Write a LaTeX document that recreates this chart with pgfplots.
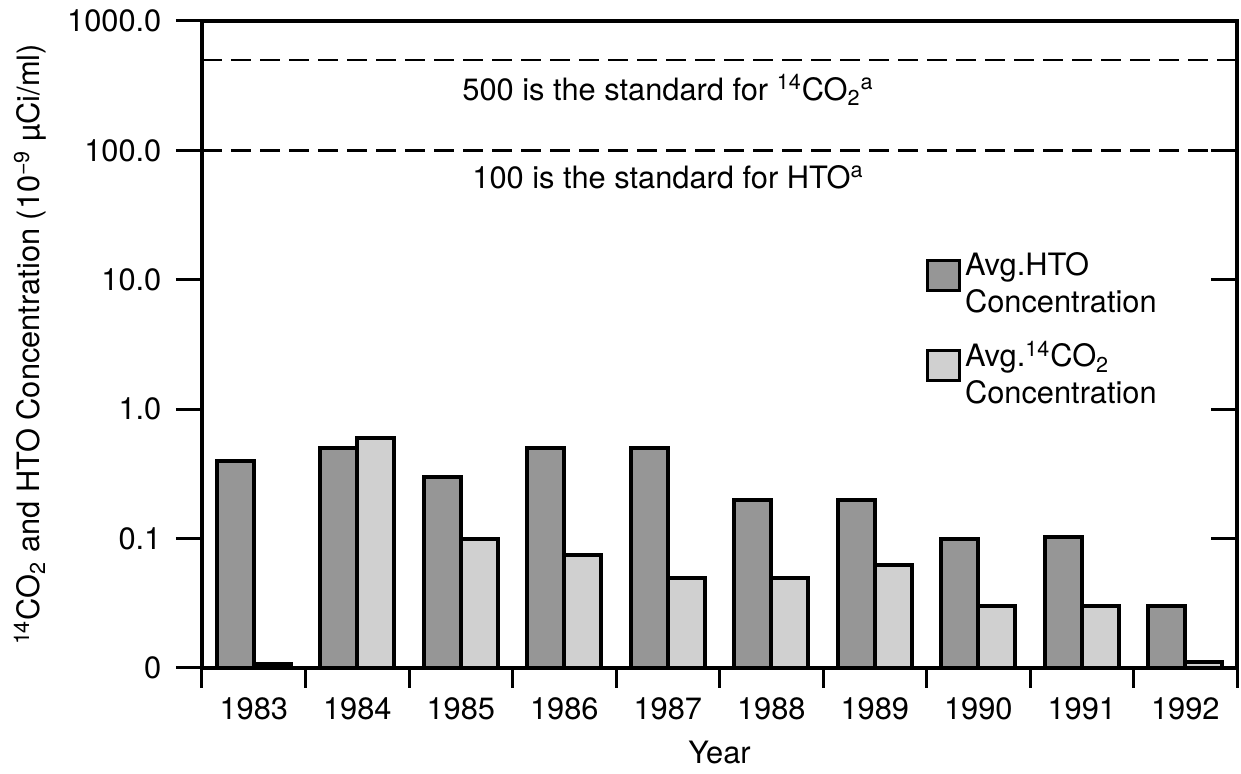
\documentclass[border=0pt]{standalone}
\usepackage{fontspec}
\setmainfont{TeX Gyre Heros}
\usepackage{pgfplots}
\pgfplotsset{compat=1.18}

\definecolor{htogray}{RGB}{150,150,150}
\definecolor{co2gray}{RGB}{208,208,208}

\begin{document}
\fontsize{15.4}{18.5}\selectfont
\begin{tikzpicture}
  \begin{axis}[
      width=517.5pt, height=323.5pt, scale only axis,
      ymode=log, log origin y=infty,
      ymin=0.01, ymax=1000,
      xmin=-0.5, xmax=9.5,
      ytick={0.01,0.1,1,10,100,1000},
      yticklabels={0,0.1,1.0,10.0,100.0,1000.0},
      xtick={0,...,9},
      xticklabels={1983,1984,1985,1986,1987,1988,1989,1990,1991,1992},
      minor xtick={-0.5,0.5,...,9.5},
      major x tick style={draw=none},
      minor tick length=10pt,
      major tick length=13pt,
      tick align=outside,
      xtick pos=bottom, ytick pos=left,
      yminorticks=false,
      tick style={black, line width=1.5pt},
      axis line style={line width=1.8pt},
      /pgf/number format/assume math mode=true,
      xticklabel style={yshift=3.5pt},
      yticklabel style={xshift=-2pt},
      ybar=0pt, bar width=18.5pt,
      xlabel={Year},
      xlabel style={at={(axis description cs:0.5,-0.13)}, anchor=center},
      ylabel={\textsuperscript{14}CO\textsubscript{2} and HTO Concentration (10\textsuperscript{−9} µCi/ml)},
      ylabel style={at={(axis description cs:-0.166,0.5)}, anchor=center},
      legend style={draw=none, fill=none, at={(0.699,0.649)}, anchor=north west,
        inner sep=0pt, row sep=8pt, nodes={align=left, inner sep=2pt}},
      legend cell align=left,
      legend image code/.code={\draw[#1, line width=1.6pt] (0pt,-3pt) rectangle (16pt,12pt);},
    ]
    \coordinate (SW) at (rel axis cs:0,0);
    \coordinate (NE) at (rel axis cs:1,1);

    \addplot[fill=htogray, draw=black, line width=2pt] coordinates {
      (0,0.4) (1,0.5) (2,0.3) (3,0.5) (4,0.5)
      (5,0.2) (6,0.2) (7,0.1) (8,0.102) (9,0.03)
    };
    \addlegendentry{Avg.HTO\\Concentration}

    \addplot[fill=co2gray, draw=black, line width=2pt] coordinates {
      (0,0.0107) (1,0.6) (2,0.1) (3,0.075) (4,0.05)
      (5,0.05) (6,0.062) (7,0.03) (8,0.03) (9,0.0111)
    };
    \addlegendentry{Avg.\textsuperscript{14}CO\textsubscript{2}\\Concentration}

    \addplot[sharp plot, black, line width=1.4pt, dash pattern=on 10pt off 4.5pt, forget plot]
      coordinates {(-0.5,500) (9.5,500)};
    \addplot[sharp plot, black, line width=1.4pt, dash pattern=on 10pt off 4.5pt, forget plot]
      coordinates {(-0.5,100) (9.5,100)};

    \node[anchor=base west, inner sep=0pt] at (axis cs:2.012,245)
      {500 is the standard for \textsuperscript{14}CO\textsubscript{2}\textsuperscript{a}};
    \node[anchor=base west, inner sep=0pt] at (axis cs:2.109,51)
      {100 is the standard for HTO\textsuperscript{a}};
  \end{axis}

  % right-hand ticks point inward
  \begin{axis}[
      width=517.5pt, height=323.5pt, scale only axis,
      ymode=log, ymin=0.01, ymax=1000,
      xmin=-0.5, xmax=9.5,
      ytick={0.01,0.1,1,10,100,1000},
      yticklabels={},
      yminorticks=false,
      ytick pos=right, tick align=inside,
      major tick length=13pt,
      tick style={black, line width=1.5pt},
      hide x axis,
      axis line style={draw=none},
    ]
    \addplot[draw=none] coordinates {(0,1)};
  \end{axis}

  \pgfresetboundingbox
  \path[use as bounding box] ([shift={(-101pt,-53pt)}]SW) rectangle ([shift={(2pt,10.5pt)}]NE);
\end{tikzpicture}
\end{document}
